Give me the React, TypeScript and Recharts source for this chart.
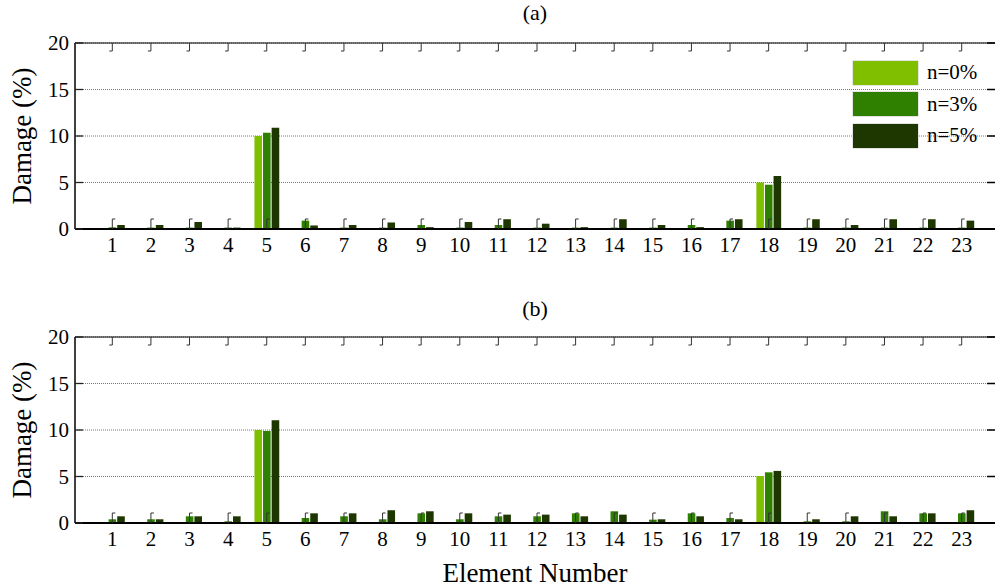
import React from 'react';
import { BarChart, Bar, XAxis, YAxis, CartesianGrid, Legend } from 'recharts';

const elements = [1, 2, 3, 4, 5, 6, 7, 8, 9, 10, 11, 12, 13, 14, 15, 16, 17, 18, 19, 20, 21, 22, 23];
const yTicks = [0, 5, 10, 15, 20];
const seriesNames = ['n=0%', 'n=3%', 'n=5%'];
const seriesColors = ['#80BF00', '#2F7F00', '#1E3600'];

const panelA_n0 = [0.05, 0.05, 0.05, 0.05, 10.0, 0.05, 0.05, 0.05, 0.05, 0.05, 0.05, 0.05, 0.05, 0.05, 0.05, 0.05, 0.05, 5.0, 0.05, 0.05, 0.05, 0.05, 0.05];
const panelA_n3 = [0.18, 0.15, 0.15, 0.15, 10.35, 0.9, 0.15, 0.15, 0.43, 0.15, 0.43, 0.15, 0.15, 0.15, 0.15, 0.43, 0.9, 4.76, 0.15, 0.15, 0.15, 0.15, 0.15];
const panelA_n5 = [0.43, 0.43, 0.75, 0.15, 10.9, 0.38, 0.43, 0.7, 0.2, 0.75, 1.05, 0.57, 0.2, 1.05, 0.43, 0.2, 1.05, 5.7, 1.05, 0.43, 1.05, 1.05, 0.9];

const panelB_n0 = [0.05, 0.05, 0.05, 0.05, 10.0, 0.05, 0.05, 0.05, 0.05, 0.05, 0.05, 0.05, 0.05, 0.05, 0.05, 0.05, 0.05, 5.05, 0.05, 0.05, 0.05, 0.05, 0.05];
const panelB_n3 = [0.4, 0.4, 0.72, 0.18, 9.9, 0.54, 0.72, 0.4, 1.04, 0.4, 0.72, 0.72, 1.04, 1.26, 0.36, 1.04, 0.54, 5.45, 0.18, 0.18, 1.26, 1.04, 1.04];
const panelB_n5 = [0.72, 0.4, 0.72, 0.72, 11.05, 1.04, 1.04, 1.37, 1.26, 1.04, 0.9, 0.9, 0.72, 0.9, 0.4, 0.72, 0.4, 5.6, 0.4, 0.72, 0.72, 1.04, 1.37];

const FONT = 'Liberation Serif, Times New Roman, serif';
const FS = 21;
const CHART_W = 1000;
const MARGIN_RIGHT = 5;
const PLOT_RIGHT = CHART_W - MARGIN_RIGHT;

const buildRows = (n0: number[], n3: number[], n5: number[]) =>
  elements.map((el, i) => ({ el, n0: n0[i], n3: n3[i], n5: n5[i] }));

const dataA = buildRows(panelA_n0, panelA_n3, panelA_n5);
const dataB = buildRows(panelB_n0, panelB_n3, panelB_n5);

const BOTTOM_MARGIN = 8;
const LEFT_MARGIN = 6;

const BottomTick = (props: any) => {
  const { x, y, payload } = props;
  const ay = y - BOTTOM_MARGIN;
  return (
    <g>
      <path d={`M${x},${ay} V${ay - 10} H${x + 3}`} stroke="#333" strokeWidth={1} fill="none" />
      <text x={x} y={y} dy="0.71em" textAnchor="middle" fontFamily={FONT} fontSize={FS} fill="#000">
        {payload.value}
      </text>
    </g>
  );
};

const TopTick = (props: any) => {
  const { x, y } = props;
  return <path d={`M${x},${y} V${y + 8} H${x - 3}`} stroke="#333" strokeWidth={1} fill="none" />;
};

const LeftTick = (props: any) => {
  const { x, y, payload } = props;
  const ax = x + LEFT_MARGIN;
  return (
    <g>
      <line x1={ax} x2={ax + 8} y1={y} y2={y} stroke="#222" strokeWidth={1.3} />
      <line x1={PLOT_RIGHT - 8} x2={PLOT_RIGHT} y1={y} y2={y} stroke="#000" strokeWidth={1.5} />
      <text x={x} y={y} dy="0.35em" textAnchor="end" fontFamily={FONT} fontSize={FS} fill="#000">
        {payload.value}
      </text>
    </g>
  );
};

const YLabel = (props: any) => {
  const vb = props.viewBox || { x: 0, y: 0, height: 0 };
  const cx = vb.x + 22;
  const cy = vb.y + vb.height / 2;
  return (
    <text x={cx} y={cy} transform={`rotate(-90 ${cx} ${cy})`} textAnchor="middle" dominantBaseline="central"
      fontFamily={FONT} fontSize={27} fill="#000">
      Damage (%)
    </text>
  );
};

const LegendContent = () => (
  <div style={{ fontFamily: FONT, fontSize: 21, color: '#000' }}>
    {seriesNames.map((name, i) => (
      <div key={name} style={{ display: 'flex', alignItems: 'center', height: 31.5 }}>
        <div style={{ width: 65, height: 24, background: seriesColors[i], boxShadow: '0 0 0 0.5px #ccc' }} />
        <span style={{ marginLeft: 9, fontFamily: FONT }}>{name}</span>
      </div>
    ))}
  </div>
);

const Panel = ({ data, showLegend }: { data: any[]; showLegend: boolean }) => (
  <BarChart width={CHART_W} height={259} data={data} margin={{ top: 42, right: MARGIN_RIGHT, bottom: 0, left: 0 }} barGap={1}>
    <CartesianGrid vertical={false} stroke="#777" strokeDasharray="1 1" />
    <XAxis dataKey="el" type="category" padding={{ left: 18, right: 14 }} height={30}
      tickSize={0} tickMargin={BOTTOM_MARGIN} tick={<BottomTick />} axisLine={{ stroke: '#000', strokeWidth: 2 }} tickLine={false} interval={0} />
    <XAxis xAxisId="top" dataKey="el" type="category" orientation="top" padding={{ left: 18, right: 14 }} height={1}
      tickSize={0} tickMargin={0} tick={<TopTick />} axisLine={{ stroke: '#000', strokeWidth: 1 }} tickLine={false} interval={0} />
    <YAxis type="number" domain={[0, 20]} ticks={yTicks} width={75} tickSize={0} tickMargin={LEFT_MARGIN}
      tick={<LeftTick />} axisLine={{ stroke: '#000', strokeWidth: 1.5 }} tickLine={false} allowDataOverflow label={<YLabel />} />
    <Bar dataKey="n0" name={seriesNames[0]} fill={seriesColors[0]} barSize={7.6} isAnimationActive={false} />
    <Bar dataKey="n3" name={seriesNames[1]} fill={seriesColors[1]} barSize={7.6} isAnimationActive={false} />
    <Bar dataKey="n5" name={seriesNames[2]} fill={seriesColors[2]} barSize={7.6} isAnimationActive={false} />
    {showLegend && (
      <Legend layout="vertical" align="center" verticalAlign="middle" content={<LegendContent />}
        wrapperStyle={{ left: 853, top: 57, width: 145, height: 95 }} />
    )}
  </BarChart>
);

const titleStyle: React.CSSProperties = {
  position: 'absolute', left: 0, width: 1070, textAlign: 'center', fontFamily: FONT, fontSize: 22, color: '#000',
  lineHeight: '26px',
};

export default function App() {
  return (
    <div style={{ position: 'absolute', left: 0, top: 0, width: 1000, height: 588, background: '#fff', overflow: 'hidden' }}>
      <div style={{ ...titleStyle, top: 0 }}>(a)</div>
      <div style={{ position: 'absolute', left: 0, top: 0 }}>
        <Panel data={dataA} showLegend={true} />
      </div>
      <div style={{ ...titleStyle, top: 296 }}>(b)</div>
      <div style={{ position: 'absolute', left: 0, top: 294 }}>
        <Panel data={dataB} showLegend={false} />
      </div>
      <div style={{ ...titleStyle, top: 558, fontSize: 27, lineHeight: '30px' }}>Element Number</div>
    </div>
  );
}
